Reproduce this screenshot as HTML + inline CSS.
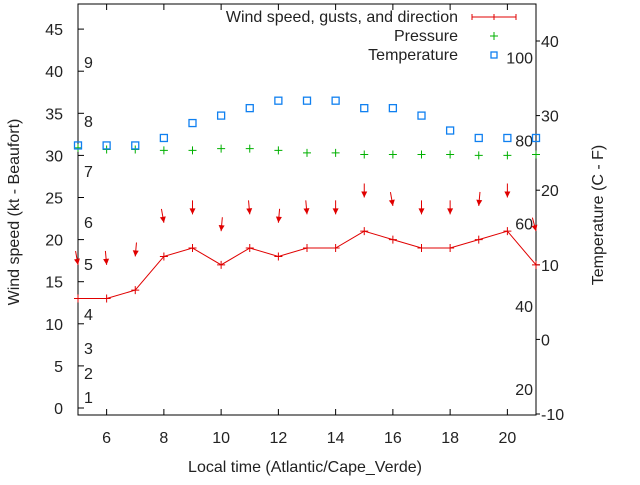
<!DOCTYPE html>
<html><head><meta charset="utf-8"><style>
body{margin:0;background:#fff}
svg{font-family:"Liberation Sans",sans-serif;font-size:16px;fill:#222}
</style></head><body>
<svg id="c" width="640" height="480" xmlns="http://www.w3.org/2000/svg"></svg>
<script>
const hours=[5,6,7,8,9,10,11,12,13,14,15,16,17,18,19,20,21];
const windSpeed=[13,13,14,18,19,17,19,18,19,19,21,20,19,19,20,21,17];
const gusts=[17,17,18,22,23,21,23,22,23,23,25,24,23,23,24,25,21];
const windDir=[350,355,5,350,0,5,355,5,355,0,0,350,0,0,5,0,345];
const pressure=[30.9,30.7,30.7,30.6,30.6,30.8,30.8,30.6,30.3,30.3,30.1,30.1,30.1,30.1,30.0,30.0,30.1];
const tempC=[26,26,26,27,29,30,31,32,32,32,31,31,30,28,27,27,27];
const xTicks=[6,8,10,12,14,16,18,20];
const yTicks=[0,5,10,15,20,25,30,35,40,45];
const y2Ticks=[-10,0,10,20,30,40];
const beaufort=[[1,397],[2,373],[3,348],[4,314],[5,264],[6,222],[7,171],[8,121],[9,62]];
const fahr=[20,40,60,80,100];

const L=78,R=536,T=4,B=415;
const xs=h=>L+(h-5)*(R-L)/16;
const ys=v=>408-v*8.42;
const y2=c=>414-(c+10)*7.46;
const yF=f=>y2((f-32)*5/9);
const svg=document.getElementById('c');
const NS='http://www.w3.org/2000/svg';
function mk(tag,attrs,parent){const e=document.createElementNS(NS,tag);for(const k in attrs)e.setAttribute(k,attrs[k]);(parent||svg).appendChild(e);return e;}
function txt(s,x,y,anchor,name){const t=mk('text',{x:x,y:y,'text-anchor':anchor});t.textContent=s;


return t;}

const fr=mk('rect',{x:L,y:T,width:R-L,height:B-T,fill:'none',stroke:'#000','stroke-width':1});



xTicks.forEach(h=>{const x=xs(h);
mk('line',{x1:x,y1:B,x2:x,y2:B-6,stroke:'#000'});mk('line',{x1:x,y1:T,x2:x,y2:T+6,stroke:'#000'});
txt(String(h),x,443,'middle','x-tick-label');});
yTicks.forEach(v=>{const y=ys(v);mk('line',{x1:L,y1:y,x2:L+6,y2:y,stroke:'#000'});
txt(String(v),63,y+6,'end','y-tick-label');});
y2Ticks.forEach(c=>{const y=y2(c);mk('line',{x1:R,y1:y,x2:R+4,y2:y,stroke:'#000'});
txt(String(c),541,y+6,'start','y2-tick-label');});
beaufort.forEach(b=>txt(String(b[0]),84,b[1]+6,'start','beaufort-label'));
fahr.forEach(f=>txt(String(f),533,yF(f)+6,'end','fahrenheit-label'));

hours.forEach((h,i)=>{const x=xs(h),y=ys(pressure[i]);
const g=mk('path',{d:`M${x-4},${y}H${x+4}M${x},${y-4}V${y+4}`,stroke:'#00b000','stroke-width':1});

});
hours.forEach((h,i)=>{const x=xs(h),y=y2(tempC[i]);
const r=mk('rect',{x:x-3.5,y:y-3.5,width:7,height:7,fill:'none',stroke:'#1080f0','stroke-width':1.3});

});
const pl=mk('polyline',{points:hours.map((h,i)=>xs(h)+','+ys(windSpeed[i])).join(' '),fill:'none',stroke:'#e00000','stroke-width':1});


hours.forEach((h,i)=>{const x=xs(h),y=ys(windSpeed[i]);
mk('path',{d:`M${x-4},${y}H${x+4}M${x},${y-4}V${y+4}`,stroke:'#e00000'});});
hours.forEach((h,i)=>{const x=xs(h),y=ys(gusts[i]);const a=windDir[i]*Math.PI/180;
const dx=Math.sin(a),dy=-Math.cos(a);const len=14;
const x0=x+dx*len,y0=y+dy*len;
const g=mk('g',{});


mk('line',{x1:x0,y1:y0,x2:x,y2:y,stroke:'#e00000','stroke-width':1},g);
const px=-dy,py=dx;
mk('path',{d:`M${x},${y}L${x+dx*6+px*3},${y+dy*6+py*3}L${x+dx*6-px*3},${y+dy*6-py*3}Z`,fill:'#e00000'},g);});

txt('Wind speed, gusts, and direction',458,22,'end','legend-wind');
mk('path',{d:'M472,17H516M472,14V20M494,14V20M516,14V20',stroke:'#e00000'});
txt('Pressure',458,41,'end','legend-pressure');
mk('path',{d:'M490,36H498M494,32V40',stroke:'#00b000'});
txt('Temperature',458,60,'end','legend-temperature');
mk('rect',{x:491,y:52,width:6,height:6,fill:'none',stroke:'#1080f0','stroke-width':1.3});

txt('Local time (Atlantic/Cape_Verde)',305,472,'middle','x-axis-title');
const yt=txt('Wind speed (kt - Beaufort)',0,0,'middle','y-axis-title');yt.setAttribute('transform','translate(19,212) rotate(-90)');
const y2t=txt('Temperature (C - F)',0,0,'middle','y2-axis-title');y2t.setAttribute('transform','translate(603,215) rotate(-90)');
</script>
</body></html>
